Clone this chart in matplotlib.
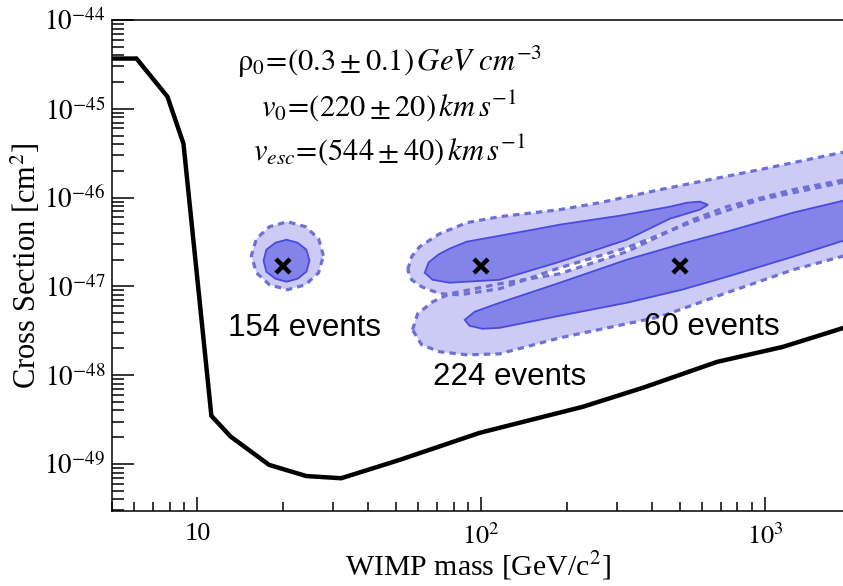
import numpy as np
import matplotlib
matplotlib.use("Agg")
import matplotlib.pyplot as plt
from matplotlib.ticker import FixedLocator, FixedFormatter, NullFormatter

plt.rcParams['mathtext.fontset'] = 'stix'
plt.rcParams['font.family'] = ['Liberation Serif', 'DejaVu Serif']

# ---- exclusion limit curve ----
limit_mass = [5.0, 6.1, 7.84, 8.93, 11.2, 13.1, 17.9, 24.2, 32.1, 51.6, 98.8, 116,
              228, 371, 678, 1156, 2000]
limit_sigma = [3.68e-45, 3.68e-45, 1.37e-45, 4.05e-46, 3.48e-49, 2.03e-49, 9.75e-50,
               7.3e-50, 6.9e-50, 1.11e-49, 2.24e-49, 2.55e-49, 4.4e-49, 7.2e-49,
               1.41e-48, 2.08e-48, 3.6e-48]

# ---- true (simulated) WIMP points ----
true_mass = [20, 100, 500]
true_sigma = [1.7e-47, 1.7e-47, 1.7e-47]

# ---- contour outlines, given as log10(mass) / log10(cross section) ----
# 154 events (20 GeV)
lm154_out = [1.444, 1.427, 1.381, 1.317, 1.254, 1.208, 1.190, 1.208, 1.254, 1.317, 1.381, 1.427]
ls154_out = [-46.655, -46.463, -46.328, -46.272, -46.328, -46.463, -46.655, -46.847,
             -46.982, -47.038, -46.982, -46.847]
lm154_in = [1.395, 1.384, 1.353, 1.314, 1.275, 1.243, 1.233, 1.243, 1.275, 1.314, 1.353, 1.384]
ls154_in = [-46.711, -46.587, -46.508, -46.475, -46.508, -46.587, -46.711, -46.835,
            -46.914, -46.948, -46.914, -46.835]

# 224 events (100 GeV)
lm224_out = [1.741, 1.755, 1.783, 1.854, 1.949, 2.065, 2.277, 2.418, 2.630, 2.982, 3.32,
             3.32, 2.982, 2.746, 2.513, 2.277, 2.065, 1.924, 1.854, 1.790, 1.755]
ls224_out = [-46.813, -46.666, -46.554, -46.407, -46.283, -46.215, -46.136, -46.058,
             -45.911, -45.685, -45.460,
             -45.798, -46.024, -46.272, -46.565, -46.790, -47.027, -47.095, -47.083,
             -47.004, -46.926]
lm224_in = [1.801, 1.815, 1.850, 1.889, 1.949, 2.182, 2.277, 2.489, 2.665, 2.725, 2.771, 2.799,
            2.771, 2.665, 2.513, 2.277, 2.065, 1.889, 1.829]
ls224_in = [-46.847, -46.730, -46.640, -46.575, -46.497, -46.362, -46.305, -46.204, -46.103,
            -46.058, -46.046, -46.080, -46.136, -46.238, -46.475, -46.723, -46.926,
            -46.959, -46.926]

# 60 events (500 GeV)
lm60_out = [1.758, 1.776, 1.829, 1.889, 2.065, 2.277, 2.513, 2.630, 2.746, 2.866, 3.099, 3.32,
            3.32, 3.099, 2.866, 2.630, 2.277, 2.065, 1.949, 1.854, 1.790]
ls60_out = [-47.489, -47.309, -47.174, -47.083, -46.971, -46.858, -46.610, -46.430,
            -46.249, -46.103, -45.911, -45.776,
            -46.621, -46.813, -47.072, -47.343, -47.580, -47.760, -47.771, -47.737, -47.658]
lm60_in = [1.942, 1.977, 2.065, 2.277, 2.513, 2.707, 2.866, 3.099, 3.32,
           3.32, 3.099, 2.866, 2.707, 2.513, 2.277, 2.065, 2.005, 1.959]
ls60_in = [-47.377, -47.286, -47.185, -46.959, -46.700, -46.520, -46.384, -46.170, -46.001,
           -46.441, -46.666, -46.892, -47.038, -47.185, -47.331, -47.467, -47.478, -47.444]

# ---- axis ticks ----
xticks = [10, 100, 1000]
xticklabels = ['10', '$10^2$', '$10^3$']
yticks = [1e-49, 1e-48, 1e-47, 1e-46, 1e-45, 1e-44]
yticklabels = ['$10^{-49}$', '$10^{-48}$', '$10^{-47}$', '$10^{-46}$', '$10^{-45}$', '$10^{-44}$']

LIGHT = '#cbcbf6'
DARK = '#8383ea'
DASH = '#6f6fd4'
EDGE = '#4a4ade'

fig = plt.figure(figsize=(8.43, 5.86), dpi=100)
ax = fig.add_axes([112/843, 1 - 511/586, (843 - 112)/843, (511 - 20)/586])
ax.set_xscale('log')
ax.set_yscale('log')
ax.set_xlim(5, 1884)
ax.set_ylim(2.95e-50, 1e-44)

def tolin(a):
    return 10.0 ** np.asarray(a)

outers = [(lm154_out, ls154_out), (lm224_out, ls224_out), (lm60_out, ls60_out)]
inners = [(lm154_in, ls154_in), (lm224_in, ls224_in), (lm60_in, ls60_in)]

for lm, ls in outers:
    ax.fill(tolin(lm), tolin(ls), color=LIGHT, lw=0, zorder=1)
for lm, ls in outers:
    xs = np.append(tolin(lm), tolin(lm)[0])
    ys = np.append(tolin(ls), tolin(ls)[0])
    ax.plot(xs, ys, color=DASH, lw=2.3, linestyle=(0, (2.0, 1.6)), zorder=2)
for lm, ls in inners:
    ax.fill(tolin(lm), tolin(ls), facecolor=DARK, edgecolor=EDGE, lw=1.3, zorder=3)

ax.plot(limit_mass, limit_sigma, color='black', lw=3.2, zorder=4, solid_joinstyle='miter')
ax.plot(true_mass, true_sigma, linestyle='none', marker='x', color='black',
        markersize=10, mew=3.2, zorder=5)

# ticks
ax.xaxis.set_major_locator(FixedLocator(xticks))
ax.xaxis.set_major_formatter(FixedFormatter(xticklabels))
ax.yaxis.set_major_locator(FixedLocator(yticks))
ax.yaxis.set_major_formatter(FixedFormatter(yticklabels))
ax.xaxis.set_minor_formatter(NullFormatter())
ax.yaxis.set_minor_formatter(NullFormatter())
ax.tick_params(axis='x', which='major', direction='in', length=10, width=1.1,
               labelsize=19, pad=9, top=False)
ax.tick_params(axis='x', which='minor', direction='in', length=6.5, width=1.1, top=False)
ax.tick_params(axis='y', which='major', direction='in', length=16, width=1.1,
               labelsize=19.5, pad=5, right=False)
ax.tick_params(axis='y', which='minor', direction='in', length=8.5, width=1.1, right=False)
for side in ['left', 'bottom', 'top']:
    ax.spines[side].set_linewidth(1.1)
ax.spines['right'].set_visible(False)

ax.set_xlabel('WIMP mass [GeV/c$^2$]', fontsize=21.5, labelpad=0)
ax.set_ylabel('Cross Section [cm$^2$]', fontsize=22, labelpad=1)

# annotations
sans = ['Liberation Sans', 'DejaVu Sans']
ax.text((305 - 112)/731, (511 - 328)/491, '154 events', transform=ax.transAxes,
        fontsize=22.5, family=sans, ha='center', va='center', zorder=6)
ax.text((510 - 112)/731, (511 - 377)/491, '224 events', transform=ax.transAxes,
        fontsize=22.5, family=sans, ha='center', va='center', zorder=6)
ax.text((712 - 112)/731, (511 - 327)/491, '60 events', transform=ax.transAxes,
        fontsize=22.5, family=sans, ha='center', va='center', zorder=6)

fx = (389 - 112)/731
ax.text(fx, (511 - 62)/491, r'$\mathrm{\rho}_0\!=\!(0.3\pm0.1)\,GeV\ cm^{-3}$', transform=ax.transAxes,
        fontsize=22, ha='center', va='center', zorder=6)
ax.text(fx, (511 - 106)/491, r'$v_0\!=\!(220\pm20)\,km\,s^{-1}$', transform=ax.transAxes,
        fontsize=22, ha='center', va='center', zorder=6)
ax.text(fx, (511 - 150)/491, r'$v_{esc}\!=\!(544\pm40)\,km\,s^{-1}$', transform=ax.transAxes,
        fontsize=22, ha='center', va='center', zorder=6)

fig.savefig('out.png', dpi=100)
